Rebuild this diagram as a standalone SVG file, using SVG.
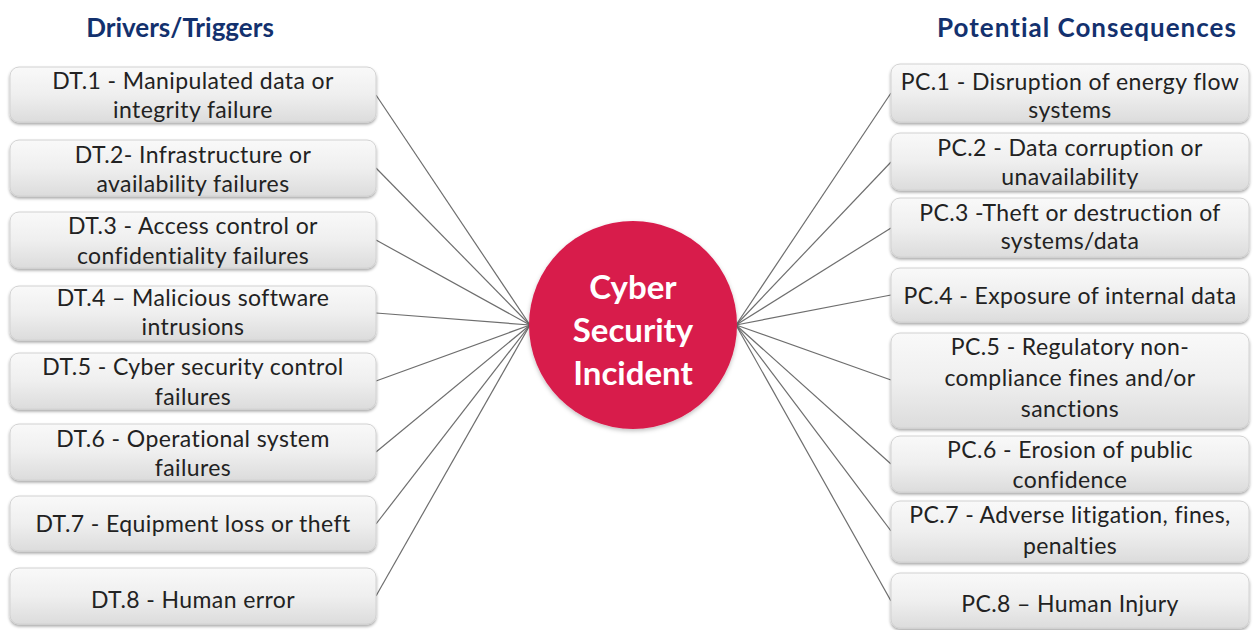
<svg xmlns="http://www.w3.org/2000/svg" width="1253" height="630" viewBox="0 0 1253 630">
<defs>
<linearGradient id="bg" x1="0" y1="0" x2="0" y2="1">
<stop offset="0" stop-color="#f9f9f9"/>
<stop offset="0.5" stop-color="#efefef"/>
<stop offset="1" stop-color="#dcdcdc"/>
</linearGradient>
<filter id="sh" x="-5%" y="-10%" width="110%" height="130%">
<feDropShadow dx="0" dy="2" stdDeviation="1.5" flood-color="#000" flood-opacity="0.35"/>
</filter>
<filter id="csh" x="-10%" y="-10%" width="120%" height="120%">
<feDropShadow dx="0" dy="2" stdDeviation="2" flood-color="#000" flood-opacity="0.25"/>
</filter>
</defs>
<style>
.box{fill:url(#bg);stroke:#d2d2d2;stroke-width:1;filter:url(#sh)}
.t{font-family:Lato,"Open Sans","Liberation Sans",sans-serif;font-size:23px;letter-spacing:0.4px;fill:#222;text-anchor:middle}
.h{font-family:Lato,"Open Sans","Liberation Sans",sans-serif;font-size:26px;font-weight:bold;fill:#13316e;text-anchor:middle}
.c{font-family:Lato,"Open Sans","Liberation Sans",sans-serif;font-size:33px;font-weight:bold;fill:#fff;text-anchor:middle}
.ln{stroke:#6e6e6e;stroke-width:1.2;fill:none}
</style>
<rect width="1253" height="630" fill="#fff"/>
<text class="h" x="180" y="37">Drivers/Triggers</text>
<text class="h" x="1087" y="37" letter-spacing="1">Potential Consequences</text>
<g id="connectors">
<line class="ln" x1="376" y1="95" x2="530" y2="325"/>
<line class="ln" x1="376" y1="168" x2="530" y2="325"/>
<line class="ln" x1="376" y1="240" x2="530" y2="325"/>
<line class="ln" x1="376" y1="313" x2="530" y2="325"/>
<line class="ln" x1="376" y1="381" x2="530" y2="325"/>
<line class="ln" x1="376" y1="452" x2="530" y2="325"/>
<line class="ln" x1="376" y1="524" x2="530" y2="325"/>
<line class="ln" x1="376" y1="596" x2="530" y2="325"/>
<line class="ln" x1="736" y1="325" x2="891" y2="93"/>
<line class="ln" x1="736" y1="325" x2="891" y2="162"/>
<line class="ln" x1="736" y1="325" x2="891" y2="228"/>
<line class="ln" x1="736" y1="325" x2="891" y2="295"/>
<line class="ln" x1="736" y1="325" x2="891" y2="380"/>
<line class="ln" x1="736" y1="325" x2="891" y2="464"/>
<line class="ln" x1="736" y1="325" x2="891" y2="531"/>
<line class="ln" x1="736" y1="325" x2="891" y2="601"/>
</g>
<g id="dt1"><rect class="box" x="10" y="67" width="366" height="55" rx="9"/><text class="t" x="193" y="89">DT.1 - Manipulated data or</text><text class="t" x="193" y="118">integrity failure</text></g>
<g id="dt2"><rect class="box" x="10" y="140" width="366" height="56" rx="9"/><text class="t" x="193" y="163">DT.2- Infrastructure or</text><text class="t" x="193" y="192">availability failures</text></g>
<g id="dt3"><rect class="box" x="10" y="212" width="366" height="56" rx="9"/><text class="t" x="193" y="234">DT.3 - Access control or</text><text class="t" x="193" y="264">confidentiality failures</text></g>
<g id="dt4"><rect class="box" x="10" y="286" width="366" height="54" rx="9"/><text class="t" x="193" y="306">DT.4 – Malicious software</text><text class="t" x="193" y="335">intrusions</text></g>
<g id="dt5"><rect class="box" x="10" y="353" width="366" height="56" rx="9"/><text class="t" x="193" y="375">DT.5 - Cyber security control</text><text class="t" x="193" y="405">failures</text></g>
<g id="dt6"><rect class="box" x="10" y="424" width="366" height="56" rx="9"/><text class="t" x="193" y="447">DT.6 - Operational system</text><text class="t" x="193" y="476">failures</text></g>
<g id="dt7"><rect class="box" x="10" y="496" width="366" height="55" rx="9"/><text class="t" x="193" y="532">DT.7 - Equipment loss or theft</text></g>
<g id="dt8"><rect class="box" x="10" y="568" width="366" height="56" rx="9"/><text class="t" x="193" y="608">DT.8 - Human error</text></g>
<g id="pc1"><rect class="box" x="891" y="64" width="358" height="58" rx="9"/><text class="t" x="1070" y="90">PC.1 - Disruption of energy flow</text><text class="t" x="1070" y="118">systems</text></g>
<g id="pc2"><rect class="box" x="891" y="133" width="358" height="57" rx="9"/><text class="t" x="1070" y="156">PC.2 - Data corruption or</text><text class="t" x="1070" y="185">unavailability</text></g>
<g id="pc3"><rect class="box" x="891" y="198" width="358" height="59" rx="9"/><text class="t" x="1070" y="221">PC.3 -Theft or destruction of</text><text class="t" x="1070" y="249">systems/data</text></g>
<g id="pc4"><rect class="box" x="891" y="268" width="358" height="54" rx="9"/><text class="t" x="1070" y="304">PC.4 - Exposure of internal data</text></g>
<g id="pc5"><rect class="box" x="891" y="333" width="358" height="95" rx="9"/><text class="t" x="1070" y="355">PC.5 - Regulatory non-</text><text class="t" x="1070" y="386">compliance fines and/or</text><text class="t" x="1070" y="417">sanctions</text></g>
<g id="pc6"><rect class="box" x="891" y="436" width="358" height="56" rx="9"/><text class="t" x="1070" y="458">PC.6 - Erosion of public</text><text class="t" x="1070" y="488">confidence</text></g>
<g id="pc7"><rect class="box" x="891" y="501" width="358" height="61" rx="9"/><text class="t" x="1070" y="523">PC.7 - Adverse litigation, fines,</text><text class="t" x="1070" y="554">penalties</text></g>
<g id="pc8"><rect class="box" x="891" y="573" width="358" height="55" rx="9"/><text class="t" x="1070" y="612">PC.8 – Human Injury</text></g>
<g id="center"><circle cx="633" cy="325" r="104" fill="#d81b4c" filter="url(#csh)"/><text class="c" x="633" y="299">Cyber</text><text class="c" x="633" y="342">Security</text><text class="c" x="633" y="385">Incident</text></g>
</svg>
